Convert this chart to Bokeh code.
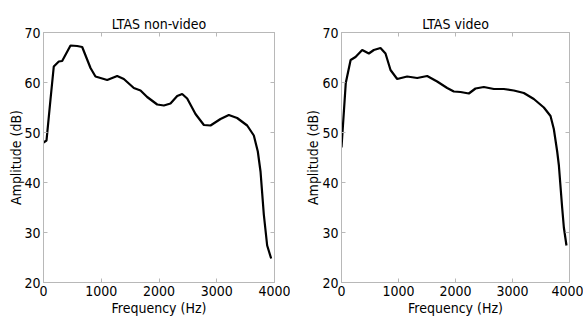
from bokeh.plotting import figure
from bokeh.models import LinearAxis, Range1d, FixedTicker, Row, CustomLabelingPolicy
from bokeh.embed import file_html
from bokeh.resources import INLINE

# ---- data ----
freq_nonvideo = [0, 52, 121, 178, 265, 323, 468, 583, 670, 814, 900, 1103, 1276, 1391,
                 1564, 1680, 1795, 1969, 2084, 2199, 2315, 2401, 2488, 2632, 2777, 2892,
                 3065, 3209, 3353, 3527, 3642, 3711, 3758, 3815, 3873, 3942]
amp_nonvideo = [48.0, 48.4, 56.6, 63.2, 64.2, 64.3, 67.4, 67.3, 67.1, 62.9, 61.2, 60.5,
                61.3, 60.7, 58.9, 58.4, 57.1, 55.6, 55.4, 55.8, 57.3, 57.7, 56.8, 53.7,
                51.5, 51.4, 52.7, 53.5, 52.9, 51.4, 49.4, 46.2, 42.2, 33.6, 27.4, 24.8]

freq_video = [0, 75, 160, 246, 363, 480, 567, 684, 772, 860, 977, 1152, 1328, 1503,
              1678, 1854, 1971, 2088, 2234, 2351, 2497, 2673, 2848, 3023, 3199, 3374,
              3550, 3667, 3725, 3784, 3813, 3871, 3901, 3947]
amp_video = [47.0, 59.9, 64.5, 65.1, 66.5, 65.8, 66.5, 66.9, 65.8, 62.5, 60.7, 61.2,
             60.9, 61.3, 60.2, 58.9, 58.2, 58.1, 57.8, 58.8, 59.1, 58.7, 58.7, 58.4,
             57.9, 56.7, 55.0, 53.3, 50.7, 46.2, 43.5, 35.0, 31.0, 27.4]

x_ticks = [0, 1000, 2000, 3000, 4000]
y_ticks = [20, 30, 40, 50, 60, 70]
titles = ["LTAS non-video", "LTAS video"]
x_label = "Frequency (Hz)"
y_label = "Amplitude (dB)"

FONT = "DejaVu Sans Condensed, Liberation Sans, sans-serif"
FRAME_COLOR = "#b8b8b8"


def make_fig(title, xs, ys, width, left, right, ylabel_standoff):
    p = figure(width=width, height=318, output_backend="svg", toolbar_location=None,
               x_range=Range1d(0, 4000), y_range=Range1d(20, 70),
               min_border_left=left, min_border_right=right,
               min_border_top=32, min_border_bottom=32)
    p.title.text = title
    p.title.align = "center"
    p.title.text_font = FONT
    p.title.text_font_size = "14px"
    p.title.text_font_style = "normal"
    p.title.text_color = "black"
    p.title.standoff = 1
    p.grid.visible = False
    p.outline_line_color = FRAME_COLOR
    p.outline_line_width = 1
    p.line(xs, ys, line_color="black", line_width=2.2)

    for ax in p.xaxis:
        ax.ticker = FixedTicker(ticks=x_ticks)
        ax.axis_label = x_label
        ax.axis_label_standoff = 1
    for ax in p.yaxis:
        ax.ticker = FixedTicker(ticks=y_ticks)
        ax.axis_label = y_label
        ax.axis_label_standoff = ylabel_standoff

    for ax in list(p.xaxis) + list(p.yaxis):
        ax.axis_line_color = FRAME_COLOR
        ax.major_tick_line_color = FRAME_COLOR
        ax.major_tick_in = 4
        ax.major_tick_out = 0
        ax.minor_tick_line_color = None
        ax.major_label_text_font = FONT
        ax.major_label_text_font_size = "14px"
        ax.major_label_text_color = "black"
        ax.axis_label_text_font = FONT
        ax.axis_label_text_font_size = "14px"
        ax.axis_label_text_font_style = "normal"
        ax.axis_label_text_color = "black"
        ax.major_label_standoff = 3

    # box ticks on the right and top, without labels
    no_labels = CustomLabelingPolicy(
        code="for (const i of Array.from(indices)) { indices.unset(i) } return indices")
    for loc, ticks in (("right", y_ticks), ("above", x_ticks)):
        ax = LinearAxis(ticker=FixedTicker(ticks=ticks), major_label_policy=no_labels)
        ax.axis_line_color = FRAME_COLOR
        ax.major_tick_line_color = FRAME_COLOR
        ax.major_tick_in = 4
        ax.major_tick_out = 0
        ax.minor_tick_line_color = None
        ax.major_label_text_font_size = "1px"
        ax.major_label_text_color = None
        ax.major_label_standoff = 0
        p.add_layout(ax, loc)
    return p


p1 = make_fig(titles[0], freq_nonvideo, amp_nonvideo, 290, 43, 16, -3)
p2 = make_fig(titles[1], freq_video, amp_video, 293, 51, 14, -2)

layout = Row(children=[p1, p2],
             styles={"position": "absolute", "left": "0px", "top": "0px"})

open("out.html", "w").write(file_html(layout, INLINE))
